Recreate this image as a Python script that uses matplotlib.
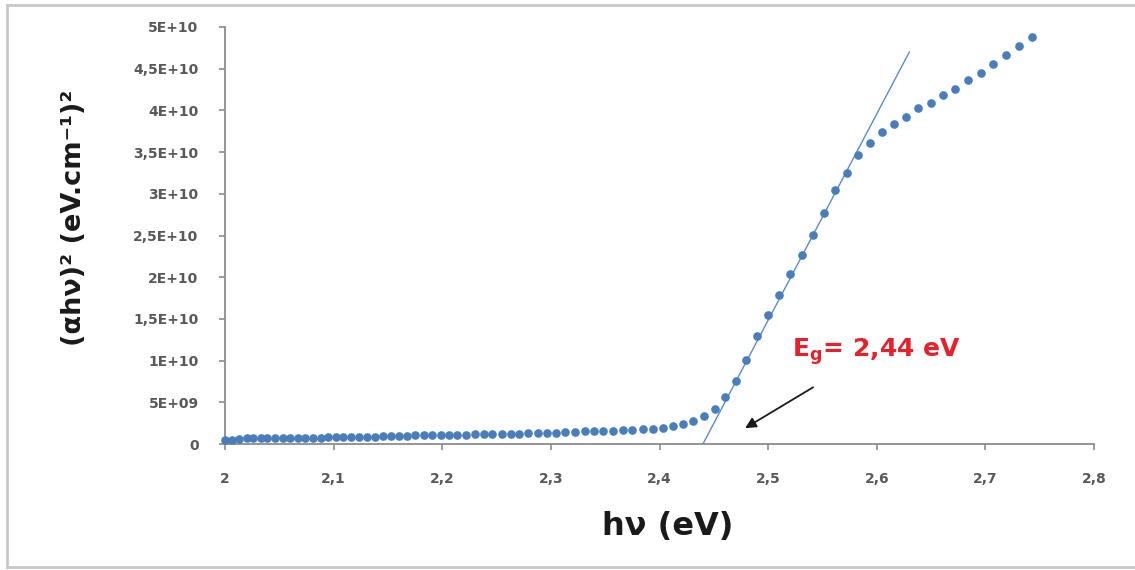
import matplotlib.pyplot as plt
from matplotlib.lines import Line2D
from matplotlib.ticker import FixedLocator

# photon energy (eV) and (alpha*h*nu)^2 in units of 1e9 (eV.cm-1)^2
hv = [2.000, 2.006, 2.013, 2.020, 2.026, 2.033, 2.039, 2.046, 2.053, 2.060,
      2.067, 2.074, 2.081, 2.088, 2.095, 2.102, 2.109, 2.116, 2.123, 2.131,
      2.138, 2.145, 2.153, 2.160, 2.168, 2.175, 2.183, 2.191, 2.199, 2.206,
      2.214, 2.222, 2.230, 2.238, 2.246, 2.255, 2.263, 2.271, 2.279, 2.288,
      2.296, 2.305, 2.313, 2.322, 2.331, 2.340, 2.348, 2.357, 2.366, 2.375,
      2.385, 2.394, 2.403, 2.412, 2.422, 2.431, 2.441, 2.451, 2.460, 2.470,
      2.480, 2.490, 2.500, 2.510, 2.520, 2.531, 2.541, 2.551, 2.562, 2.573,
      2.583, 2.594, 2.605, 2.616, 2.627, 2.638, 2.650, 2.661, 2.672, 2.684,
      2.696, 2.707, 2.719, 2.731, 2.743]
ahv2 = [0.45, 0.50, 0.55, 0.70, 0.75, 0.75, 0.75, 0.75, 0.75, 0.75,
        0.75, 0.75, 0.77, 0.77, 0.78, 0.85, 0.87, 0.87, 0.88, 0.88,
        0.88, 0.90, 0.90, 0.92, 1.00, 1.02, 1.02, 1.03, 1.03, 1.05,
        1.05, 1.08, 1.15, 1.17, 1.17, 1.18, 1.20, 1.22, 1.30, 1.35,
        1.35, 1.37, 1.40, 1.45, 1.50, 1.52, 1.55, 1.60, 1.65, 1.70,
        1.78, 1.85, 1.95, 2.10, 2.35, 2.70, 3.30, 4.20, 5.60, 7.60,
        10.1, 12.9, 15.5, 17.9, 20.4, 22.7, 25.1, 27.7, 30.4, 32.5,
        34.7, 36.1, 37.4, 38.4, 39.2, 40.3, 40.9, 41.8, 42.6, 43.6,
        44.5, 45.6, 46.6, 47.7, 48.8]

# linear extrapolation of the absorption edge
tangent_x = [2.44, 2.63]
tangent_y = [0.0, 47.0]

y_ticks = [0, 5, 10, 15, 20, 25, 30, 35, 40, 45, 50]
y_ticklabels = ['0', '5E+09', '1E+10', '1,5E+10', '2E+10', '2,5E+10',
                '3E+10', '3,5E+10', '4E+10', '4,5E+10', '5E+10']
x_ticks = [2.0, 2.1, 2.2, 2.3, 2.4, 2.5, 2.6, 2.7, 2.8]
x_ticklabels = ['2', '2,1', '2,2', '2,3', '2,4', '2,5', '2,6', '2,7', '2,8']

plt.rcParams['font.family'] = ['DejaVu Sans']

fig = plt.figure(figsize=(11.35, 5.70), dpi=100)
ax = fig.add_axes([225 / 1135, 1 - 444 / 570, (1094 - 225) / 1135, (444 - 27) / 570])

blue = '#4a7ebb'
ax.plot(hv, ahv2, linestyle='none', marker='o', markersize=5.2,
        markerfacecolor=blue, markeredgecolor=blue, clip_on=False, zorder=3)
ax.plot(tangent_x, tangent_y, color='#5b8ccc', lw=1.0, zorder=2)

ax.set_xlim(2.0, 2.8)
ax.set_ylim(0, 50)
ax.xaxis.set_major_locator(FixedLocator(x_ticks))
ax.yaxis.set_major_locator(FixedLocator(y_ticks))
ax.set_xticklabels(x_ticklabels)
ax.set_yticklabels(y_ticklabels)

for side in ['top', 'right']:
    ax.spines[side].set_visible(False)
for side in ['left', 'bottom']:
    ax.spines[side].set_color('#8c8c8c')
    ax.spines[side].set_linewidth(1.3)

ax.tick_params(axis='both', direction='out', length=4, width=1.2, color='#8c8c8c',
               labelcolor='#595959', labelsize=10)
ax.tick_params(axis='x', pad=16)
ax.tick_params(axis='y', pad=15)
for lbl in ax.get_xticklabels() + ax.get_yticklabels():
    lbl.set_fontweight('bold')

# band gap annotation
ax.annotate('', xy=(2.4788, 1.9), xytext=(2.5414, 6.8),
            arrowprops=dict(arrowstyle='-|>', color='#1a1a1a', lw=1.3,
                            mutation_scale=16, shrinkA=0, shrinkB=0))
ax.text(2.522, 10.4, r'E$_\mathregular{g}$= 2,44 eV', color='#e8202a',
        fontsize=18, fontweight='bold', ha='left', va='baseline')

fig.text(668 / 1135, 1 - 526 / 570, 'hν (eV)', fontsize=23, fontweight='bold',
         ha='center', va='center', color='#1a1a1a')
fig.text(74 / 1135, 1 - 218 / 570, '(αhν)² (eV.cm⁻¹)²', fontsize=19.5,
         fontweight='bold', rotation=90, ha='center', va='center', color='#1a1a1a')

# outer chart frame
frame_kw = dict(color='#c8c8c8', lw=2.0, transform=fig.transFigure)
fig.add_artist(Line2D([7 / 1135, 7 / 1135], [1 - 5 / 570, 1 - 567 / 570], **frame_kw))
fig.add_artist(Line2D([7 / 1135, 1.0], [1 - 5 / 570, 1 - 5 / 570], **frame_kw))
fig.add_artist(Line2D([7 / 1135, 1.0], [1 - 567 / 570, 1 - 567 / 570], **frame_kw))

fig.savefig('out.png', dpi=100, facecolor='white')
